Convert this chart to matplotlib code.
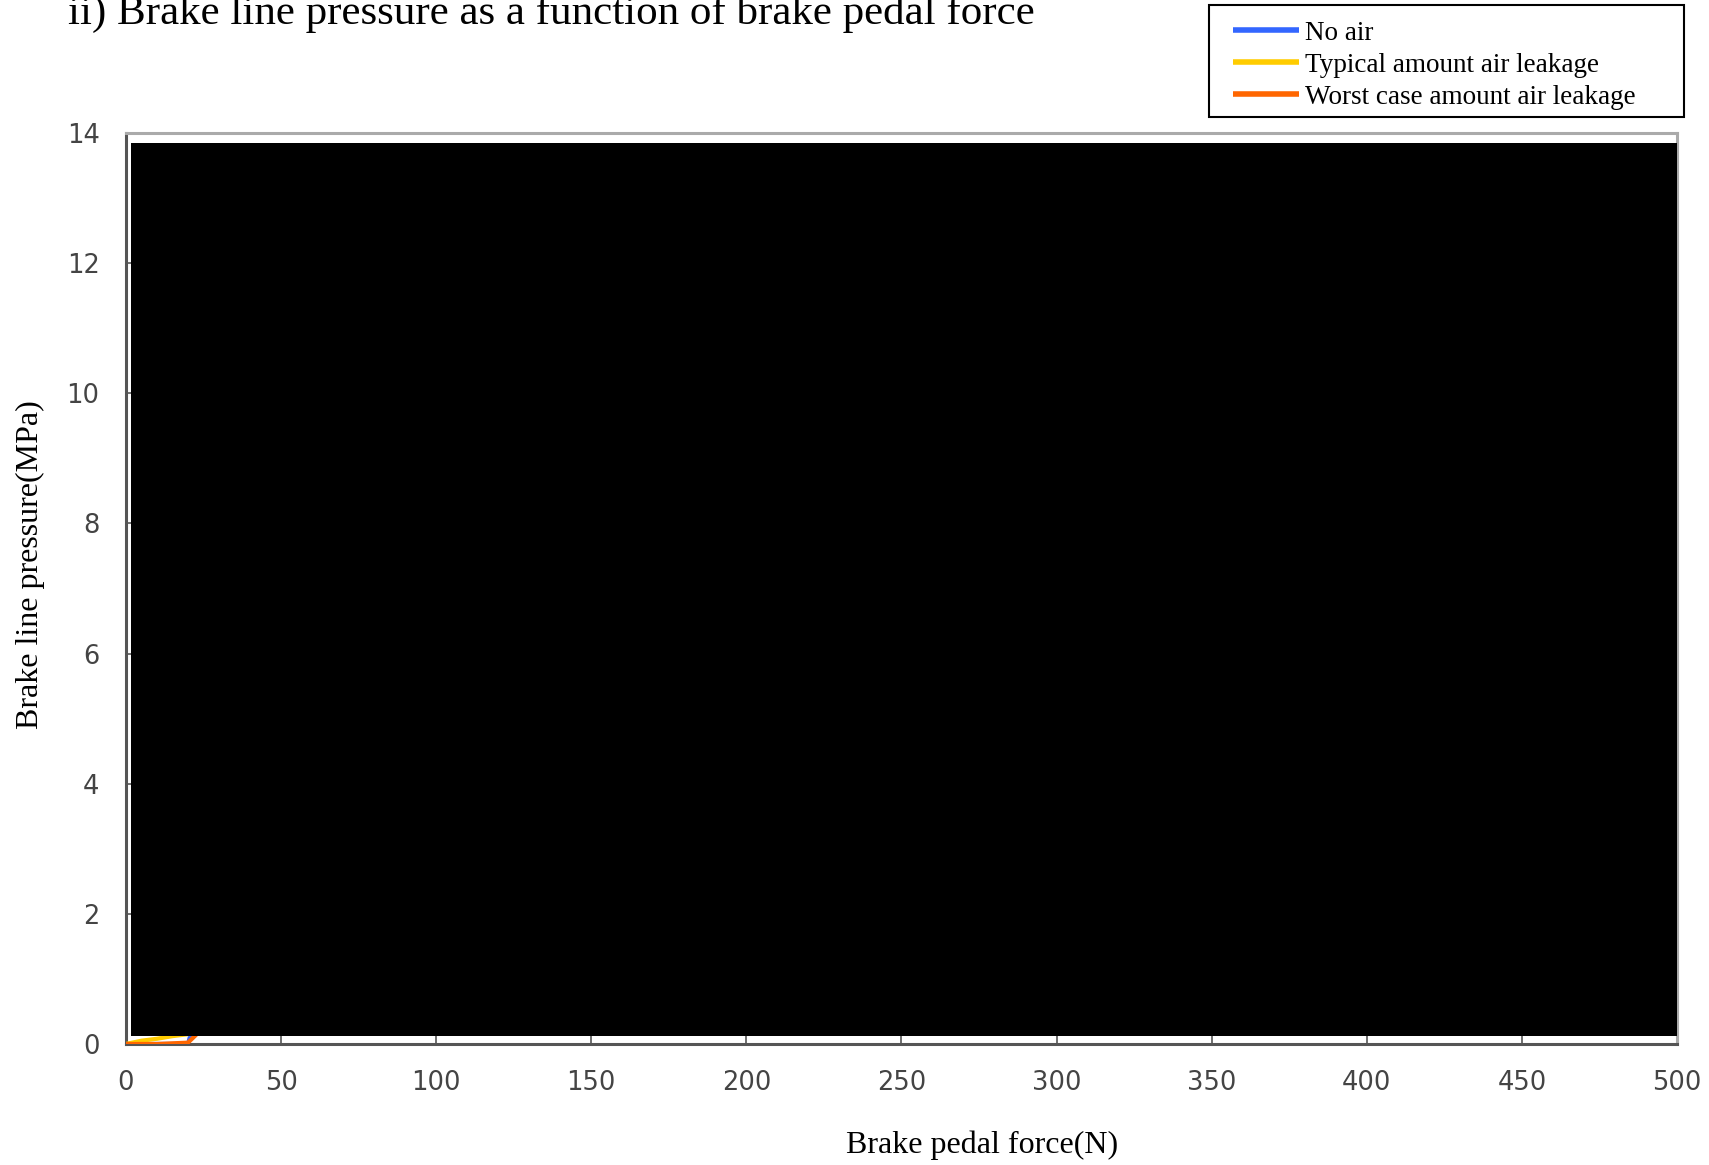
import matplotlib
matplotlib.use("Agg")
import matplotlib.pyplot as plt
from matplotlib.patches import Rectangle

# Brake pedal force (N) and brake line pressure (MPa) for three air conditions
force = [0, 5, 10, 15, 20, 25, 50, 100, 150, 200, 250, 300, 350, 400, 450, 500]
no_air = [0, 0, 0, 0, 0, 0.9, 2.8, 5.3, 7.5, 9.2, 10.4, 11.3, 12.0, 12.5, 12.9, 13.2]
typical_leak = [0, 0.05, 0.08, 0.12, 0.15, 0.4, 1.8, 4.3, 6.5, 8.2, 9.5, 10.4, 11.1, 11.6, 12.0, 12.3]
worst_leak = [0, 0, 0, 0.01, 0.02, 0.25, 1.2, 3.5, 5.6, 7.3, 8.6, 9.6, 10.3, 10.8, 11.2, 11.5]

series_names = ["No air", "Typical amount air leakage", "Worst case amount air leakage"]
series_colors = ["#3366ff", "#ffcc00", "#ff6600"]

x_ticks = [0, 50, 100, 150, 200, 250, 300, 350, 400, 450, 500]
y_ticks = [0, 2, 4, 6, 8, 10, 12, 14]

serif = ["Liberation Serif", "DejaVu Serif"]

W, H = 1709, 1165
fig = plt.figure(figsize=(W / 100, H / 100), dpi=100)
ax = fig.add_axes([0.0737, 0.1039, 0.9076, 0.7819])

lines = []
for vals, name, col, z in zip([no_air, typical_leak, worst_leak], series_names,
                              series_colors, [2, 3, 4]):
    ln, = ax.plot(force, vals, color=col, lw=3, label=name, zorder=z,
                  solid_capstyle="butt")
    lines.append(ln)

# Opaque panel covering the plotting region
ax.add_patch(Rectangle((0.0032, 0.009), 0.9968, 0.980, transform=ax.transAxes,
                       facecolor="black", edgecolor="none", zorder=6))

ax.set_xlim(0, 500)
ax.set_ylim(0, 14)
ax.set_xticks(x_ticks)
ax.set_yticks(y_ticks)
ax.tick_params(direction="in", length=7, width=1.2, color="#555555",
               labelsize=18.5, labelcolor="#444444", pad=19)

for side in ["left", "bottom"]:
    ax.spines[side].set_color("#555555")
    ax.spines[side].set_linewidth(2.2)
for side in ["top", "right"]:
    ax.spines[side].set_color("#aaaaaa")
    ax.spines[side].set_linewidth(2.2)

ax.set_xlabel("Brake pedal force(N)", family=serif, fontsize=23)
ax.set_ylabel("Brake line pressure(MPa)", family=serif, fontsize=23)
ax.xaxis.set_label_coords(0.552, -0.111)
ax.yaxis.set_label_coords(-0.0616, 0.526)
ax.xaxis.label.set_va("center")
ax.yaxis.label.set_va("center")

fig.text(68 / W, 1 - 24 / H, "ii) Brake line pressure as a function of brake pedal force",
         family=serif, fontsize=31, ha="left", va="baseline")

# Legend frame drawn as a figure-level box, entries placed inside it
box_x0, box_x1 = 1209 / W, 1684 / W
box_y1, box_y0 = 1 - 5 / H, 1 - 117 / H
fig.patches.append(Rectangle((box_x0, box_y0), box_x1 - box_x0, box_y1 - box_y0,
                             transform=fig.transFigure, facecolor="white",
                             edgecolor="black", linewidth=1.5, zorder=1))
leg = fig.legend(handles=lines, loc="upper left",
                 bbox_to_anchor=(1233 / W, 1 - 20.5 / H),
                 prop={"family": serif, "size": 19.5}, frameon=False,
                 handlelength=2.45, handletextpad=0.22,
                 borderpad=0, labelspacing=0.26, borderaxespad=0)
leg.set_zorder(2)
for h in leg.get_lines():
    h.set_linewidth(4)

fig.savefig("out.png", dpi=100)
